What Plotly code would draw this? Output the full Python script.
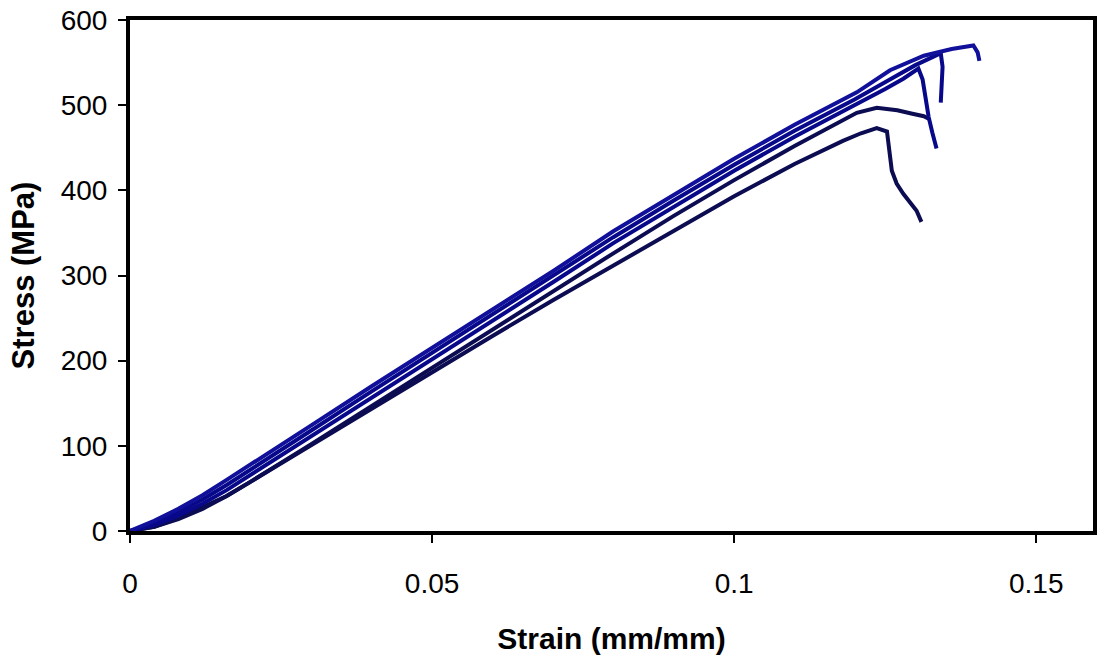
import plotly.graph_objects as go

# Specimen curves (strain in mm/mm, stress in MPa)
strain_a = [0, 0.004, 0.008, 0.012, 0.016, 0.02, 0.03, 0.04, 0.05, 0.06, 0.07, 0.08, 0.09, 0.10, 0.11,
            0.1203, 0.1258, 0.1314, 0.136, 0.1396, 0.1403, 0.1406]
stress_a = [0, 12, 26, 42, 60, 78, 124, 170, 215, 260, 305, 352, 395, 437, 477,
            515, 541, 558, 566, 570, 562, 552]

strain_b = [0, 0.004, 0.008, 0.012, 0.016, 0.02, 0.03, 0.04, 0.05, 0.06, 0.07, 0.08, 0.09, 0.10, 0.11,
            0.12, 0.126, 0.13, 0.133, 0.1342, 0.1345, 0.1343, 0.1342]
stress_b = [0, 9, 22, 37, 54, 72, 118, 164, 209, 254, 299, 345, 388, 430, 470,
            507, 531, 547, 557, 561, 545, 520, 503]

strain_c = [0, 0.004, 0.008, 0.012, 0.016, 0.02, 0.03, 0.04, 0.05, 0.06, 0.07, 0.08, 0.09, 0.10, 0.11,
            0.12, 0.125, 0.128, 0.1305, 0.1312, 0.1318, 0.1322, 0.1328, 0.1335]
stress_c = [0, 7, 18, 32, 48, 66, 111, 157, 202, 247, 292, 338, 381, 423, 463,
            500, 519, 531, 543, 530, 505, 486, 468, 449]

strain_d = [0, 0.004, 0.008, 0.012, 0.016, 0.02, 0.03, 0.04, 0.05, 0.06, 0.07, 0.08, 0.09, 0.10, 0.11,
            0.1137, 0.118, 0.1203, 0.1236, 0.127, 0.1295, 0.1314, 0.1322]
stress_d = [0, 5, 14, 26, 41, 58, 102, 147, 192, 236, 281, 326, 370, 412, 452,
            466, 482, 491, 497, 494, 490, 487, 484]

strain_e = [0, 0.004, 0.008, 0.012, 0.016, 0.02, 0.03, 0.04, 0.05, 0.06, 0.07, 0.08, 0.09, 0.10, 0.11,
            0.1137, 0.118, 0.121, 0.1236, 0.1253, 0.1255, 0.1261, 0.1269, 0.128, 0.1302, 0.131]
stress_e = [0, 5, 15, 28, 41, 58, 101, 144, 187, 229, 271, 312, 353, 393, 431,
            444, 458, 467, 473, 469, 459, 423, 408, 396, 376, 363]

series = [
    (strain_e, stress_e, "#0c0c52"),
    (strain_d, stress_d, "#0c0c52"),
    (strain_c, stress_c, "#08088a"),
    (strain_b, stress_b, "#08088a"),
    (strain_a, stress_a, "#10109a"),
]

x_ticks = [0, 0.05, 0.1, 0.15]
x_tick_labels = ["0", "0.05", "0.1", "0.15"]
y_ticks = [0, 100, 200, 300, 400, 500, 600]

FONT = "Liberation Sans, Arial, sans-serif"

fig = go.Figure()
for xs, ys, col in series:
    fig.add_trace(go.Scatter(x=xs, y=ys, mode="lines",
                             line=dict(color=col, width=4),
                             showlegend=False, hoverinfo="skip"))

fig.update_layout(
    width=1101, height=662,
    margin=dict(l=130, r=4, t=20, b=131),
    paper_bgcolor="white", plot_bgcolor="white",
    font=dict(family=FONT, color="black", size=28),
)
fig.update_xaxes(
    range=[0, 0.1594], tickvals=x_ticks, ticktext=x_tick_labels,
    showgrid=False, zeroline=False,
    showline=True, linecolor="black", linewidth=4, mirror=True,
    ticks="outside", ticklen=8, tickwidth=2, tickcolor="black",
    ticklabelstandoff=16,
    tickfont=dict(family=FONT, size=28, color="black"),
    title=dict(text="Strain (mm/mm)", standoff=31,
               font=dict(family=FONT, size=30, color="black", weight="bold")),
)
fig.update_yaxes(
    range=[0, 600], tickvals=y_ticks,
    showgrid=False, zeroline=False,
    showline=True, linecolor="black", linewidth=4, mirror=True,
    ticks="outside", ticklen=8, tickwidth=2, tickcolor="black",
    ticklabelstandoff=5,
    tickfont=dict(family=FONT, size=28, color="black"),
    title=dict(text="Stress (MPa)", standoff=18,
               font=dict(family=FONT, size=31, color="black", weight="bold")),
)

fig.write_html("out.html")
